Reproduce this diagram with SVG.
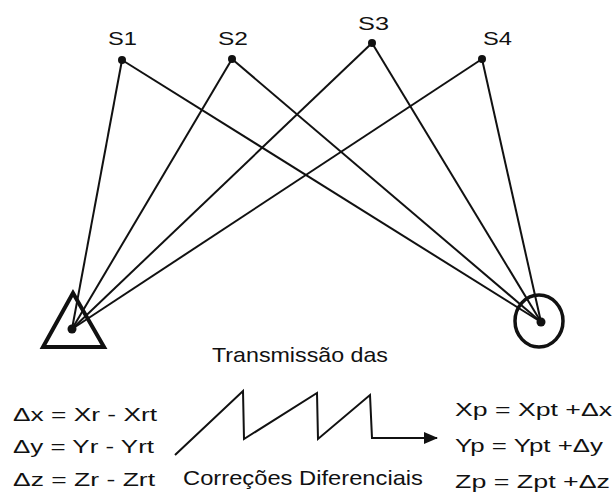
<svg xmlns="http://www.w3.org/2000/svg" width="616" height="502" viewBox="0 0 616 502">
<style>
  .ln { stroke:#111; stroke-width:2; fill:none; }
  .dot { fill:#111; }
  .lbl { font-family:"Liberation Sans", Arial, sans-serif; font-size:19px; fill:#111; }
  .big { font-family:"Liberation Sans", Arial, sans-serif; font-size:21px; fill:#111; }
</style>
<defs>
  <marker id="arr" viewBox="0 0 14 12" refX="13" refY="6" markerWidth="14" markerHeight="12" markerUnits="userSpaceOnUse" orient="auto">
    <path d="M0,0 L14,6 L0,12 Z" fill="#111"/>
  </marker>
</defs>
<rect width="616" height="502" fill="#fff"/>
<g id="connectors">
  <line class="ln" x1="122" y1="60" x2="72" y2="329"/>
  <line class="ln" x1="122" y1="60" x2="541" y2="322"/>
  <line class="ln" x1="232" y1="59" x2="72" y2="329"/>
  <line class="ln" x1="232" y1="59" x2="541" y2="322"/>
  <line class="ln" x1="372" y1="43" x2="72" y2="329"/>
  <line class="ln" x1="372" y1="43" x2="541" y2="322"/>
  <line class="ln" x1="482" y1="59" x2="72" y2="329"/>
  <line class="ln" x1="482" y1="59" x2="541" y2="322"/>
  <polyline class="ln" points="175,455 243,391 244,439 317,393 318,439 370,395 372,438 437,438" marker-end="url(#arr)"/>
</g>
<g id="S1">
  <circle class="dot" cx="122" cy="60" r="4"/>
  <text class="lbl" x="108" y="45" textLength="29" lengthAdjust="spacingAndGlyphs">S1</text>
</g>
<g id="S2">
  <circle class="dot" cx="232" cy="59" r="4"/>
  <text class="lbl" x="218" y="45" textLength="30" lengthAdjust="spacingAndGlyphs">S2</text>
</g>
<g id="S3">
  <circle class="dot" cx="372" cy="43" r="4"/>
  <text class="lbl" x="358" y="30" textLength="31" lengthAdjust="spacingAndGlyphs">S3</text>
</g>
<g id="S4">
  <circle class="dot" cx="482" cy="59" r="4"/>
  <text class="lbl" x="483" y="45" textLength="29" lengthAdjust="spacingAndGlyphs">S4</text>
</g>
<g id="reference">
  <polygon points="73,293 43,347 104,347" fill="none" stroke="#111" stroke-width="4" stroke-linejoin="miter"/>
  <circle class="dot" cx="72" cy="329" r="4.5"/>
</g>
<g id="rover">
  <ellipse cx="539" cy="321" rx="24" ry="26" fill="none" stroke="#111" stroke-width="3.5"/>
  <circle class="dot" cx="541" cy="322" r="4.5"/>
</g>
<g id="transmission">
  <text class="big" x="212" y="362" textLength="176" lengthAdjust="spacingAndGlyphs">Transmissão das</text>
  <text class="big" x="183" y="485" textLength="240" lengthAdjust="spacingAndGlyphs">Correções Diferenciais</text>
</g>
<g id="base-formulas">
  <text class="lbl" x="13" y="421" textLength="144" lengthAdjust="spacingAndGlyphs">Δx = Xr - Xrt</text>
  <text class="lbl" x="13" y="453" textLength="141" lengthAdjust="spacingAndGlyphs">Δy = Yr - Yrt</text>
  <text class="lbl" x="13" y="486" textLength="142" lengthAdjust="spacingAndGlyphs">Δz = Zr - Zrt</text>
</g>
<g id="rover-formulas">
  <text class="lbl" x="455" y="416" textLength="157" lengthAdjust="spacingAndGlyphs">Xp = Xpt +Δx</text>
  <text class="lbl" x="455" y="452" textLength="148" lengthAdjust="spacingAndGlyphs">Yp = Ypt +Δy</text>
  <text class="lbl" x="455" y="488" textLength="155" lengthAdjust="spacingAndGlyphs">Zp = Zpt +Δz</text>
</g>
</svg>
